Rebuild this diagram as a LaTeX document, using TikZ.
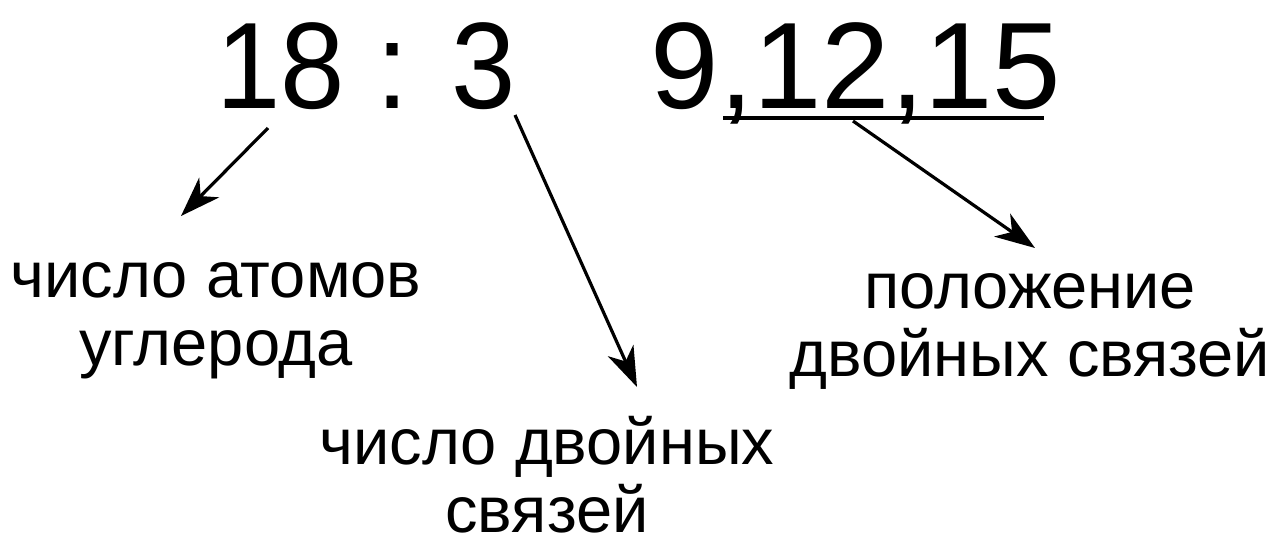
\documentclass[tikz,border=0pt]{standalone}
\usepackage{fontspec}
\setmainfont{Liberation Sans}
\usetikzlibrary{arrows.meta}
\begin{document}
\begin{tikzpicture}[x=1pt,y=-1pt,
  big/.style={font=\fontsize{123}{130}\selectfont, inner sep=0pt, anchor=base},
  lbl/.style={font=\fontsize{65}{68}\selectfont, inner sep=0pt, align=center, anchor=base},
  arr/.style={line width=3.2pt, -{Stealth[length=40pt,width=28pt,inset=12pt]}}]
\useasboundingbox (0,0) rectangle (1282,541);
\node[big] (ratio) at (366,108) {\scalebox{0.94}[1]{18 : 3}};
\node[big] (pos) at (856,108) {9,12,15};
\coordinate (ulA) at (723,118);
\coordinate (ulB) at (1044,118);
\draw[line width=3.2pt] (ulA) -- (ulB);
\node[lbl] (carbon) at (216,365) {число атомов\\углерода};
\node[lbl, text depth=0pt] (dbl) at (547,532) {число двойных\\связей};
\node[lbl] (place) at (1030,376) {положение\\двойных связей};
\coordinate (a1s) at (268,128);
\coordinate (a1e) at (181,216);
\coordinate (a2s) at (515,115);
\coordinate (a2e) at (637,387);
\coordinate (a3s) at (853,121);
\coordinate (a3e) at (1035,248);
\draw[arr] (a1s) -- (a1e);
\draw[arr] (a2s) -- (a2e);
\draw[arr] (a3s) -- (a3e);
\end{tikzpicture}
\end{document}
